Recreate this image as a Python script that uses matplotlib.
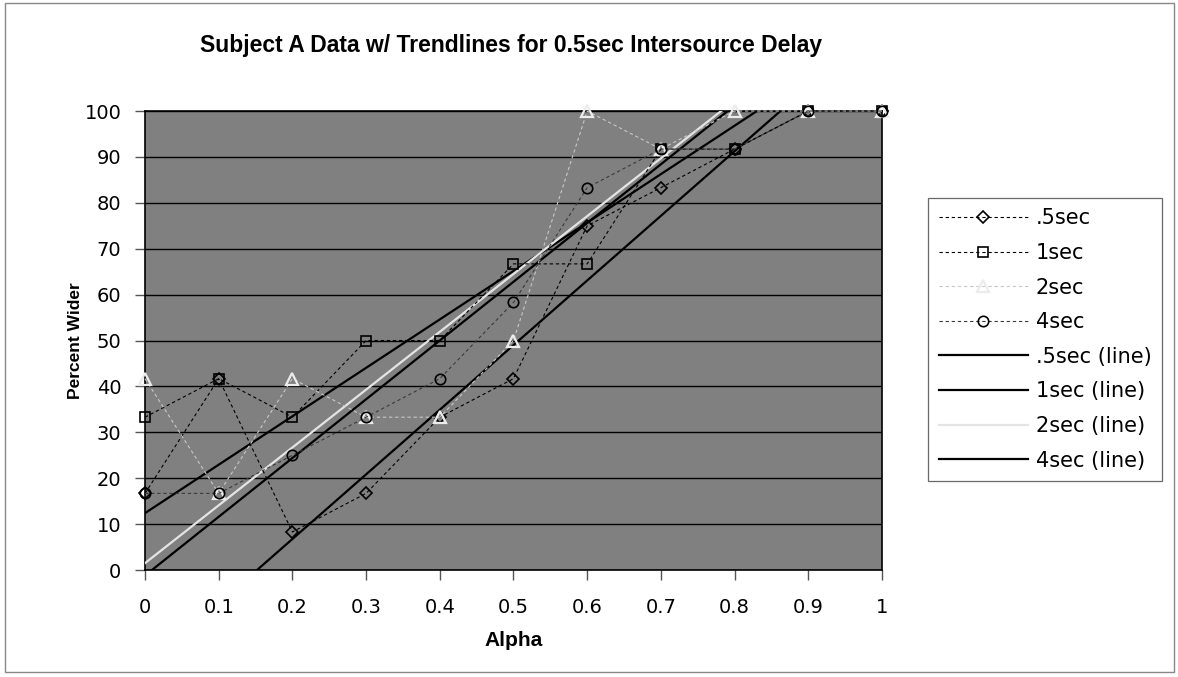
import matplotlib
matplotlib.use('Agg')
import matplotlib.pyplot as plt
from matplotlib.patches import Rectangle

plt.rcParams['font.family'] = ['Liberation Sans', 'DejaVu Sans']

alpha = [0, 0.1, 0.2, 0.3, 0.4, 0.5, 0.6, 0.7, 0.8, 0.9, 1.0]
half_sec = [16.7, 41.7, 8.3, 16.7, 33.3, 41.7, 75.0, 83.3, 91.7, 100, 100]
one_sec = [33.3, 41.7, 33.3, 50.0, 50.0, 66.7, 66.7, 91.7, 91.7, 100, 100]
two_sec = [41.7, 16.7, 41.7, 33.3, 33.3, 50.0, 100, 91.7, 100, 100, 100]
four_sec = [16.7, 16.7, 25.0, 33.3, 41.7, 58.3, 83.3, 91.7, 91.7, 100, 100]

# trendlines: (intercept, slope)
trend_half = (-21.4, 140.8)
trend_one = (12.4, 105.5)
trend_two = (1.5, 126.0)
trend_four = (-1.2, 128.0)

fig = plt.figure(figsize=(11.78, 6.77), dpi=100)
fig.patches.append(Rectangle((0.004, 0.007), 0.993, 0.988, transform=fig.transFigure,
                             fill=False, edgecolor='#888888', linewidth=1.0))
ax = fig.add_axes([0.1231, 0.158, 0.6256, 0.678])
ax.set_facecolor('#808080')

dash = (3, 2.5)
mk = dict(markerfacecolor='none', clip_on=False, zorder=4)
ax.plot(alpha, half_sec, linestyle='--', dashes=dash, color='black', linewidth=0.8,
        marker='D', markersize=6.5, markeredgecolor='black', markeredgewidth=1.2,
        label='.5sec', **mk)
ax.plot(alpha, one_sec, linestyle='--', dashes=dash, color='black', linewidth=0.8,
        marker='s', markersize=7.5, markeredgecolor='black', markeredgewidth=1.2,
        label='1sec', **mk)
ax.plot(alpha, two_sec, linestyle='--', dashes=dash, color='#c8c8c8', linewidth=0.8,
        marker='^', markersize=9, markeredgecolor='#ececec', markeredgewidth=1.6,
        label='2sec', **mk)
ax.plot(alpha, four_sec, linestyle='--', dashes=dash, color='#3a3a3a', linewidth=0.8,
        marker='o', markersize=7.5, markeredgecolor='black', markeredgewidth=1.2,
        label='4sec', **mk)

xs = [0, 1]
for (b, m), col, lab in [(trend_half, 'black', '.5sec (line)'),
                         (trend_one, 'black', '1sec (line)'),
                         (trend_two, '#e4e4e4', '2sec (line)'),
                         (trend_four, 'black', '4sec (line)')]:
    ax.plot(xs, [b + m * x for x in xs], color=col, linewidth=1.6, label=lab, zorder=3)

ax.set_xlim(0, 1)
ax.set_ylim(0, 100)
ax.set_xticks([0, 0.1, 0.2, 0.3, 0.4, 0.5, 0.6, 0.7, 0.8, 0.9, 1])
ax.set_xticklabels(['0', '0.1', '0.2', '0.3', '0.4', '0.5', '0.6', '0.7', '0.8', '0.9', '1'])
ax.set_yticks(range(0, 101, 10))
ax.yaxis.grid(True, color='black', linewidth=1.0)
ax.set_axisbelow(True)
ax.tick_params(axis='both', direction='out', length=7, width=1, color='#555555')
ax.tick_params(axis='y', pad=10)
ax.tick_params(axis='x', pad=13)
for lbl in ax.get_xticklabels() + ax.get_yticklabels():
    lbl.set_fontfamily('DejaVu Sans')
    lbl.set_fontsize(14)
for s in ax.spines.values():
    s.set_color('black')
    s.set_linewidth(1.2)

ax.set_xlabel('Alpha', fontsize=15, fontweight='bold', va='center')
ax.xaxis.set_label_coords(0.5, -0.1525)
ax.set_ylabel('Percent Wider', fontsize=12.5, fontweight='bold', va='center')
ax.yaxis.set_label_coords(-0.095, 0.5)
fig.text(0.434, 0.933, 'Subject A Data w/ Trendlines for 0.5sec Intersource Delay',
         ha='center', va='center', fontsize=16.5, fontweight='bold')

leg = ax.legend(loc='upper left', bbox_to_anchor=(0.788, 0.7075),
                bbox_transform=fig.transFigure, prop={'family': 'DejaVu Sans', 'size': 15},
                frameon=True, fancybox=False, edgecolor='#444444', handlelength=4.3,
                labelspacing=0.7, borderpad=0.5, handletextpad=0.35, borderaxespad=0)
leg.get_frame().set_linewidth(0.9)

fig.savefig('out.png', dpi=100)
